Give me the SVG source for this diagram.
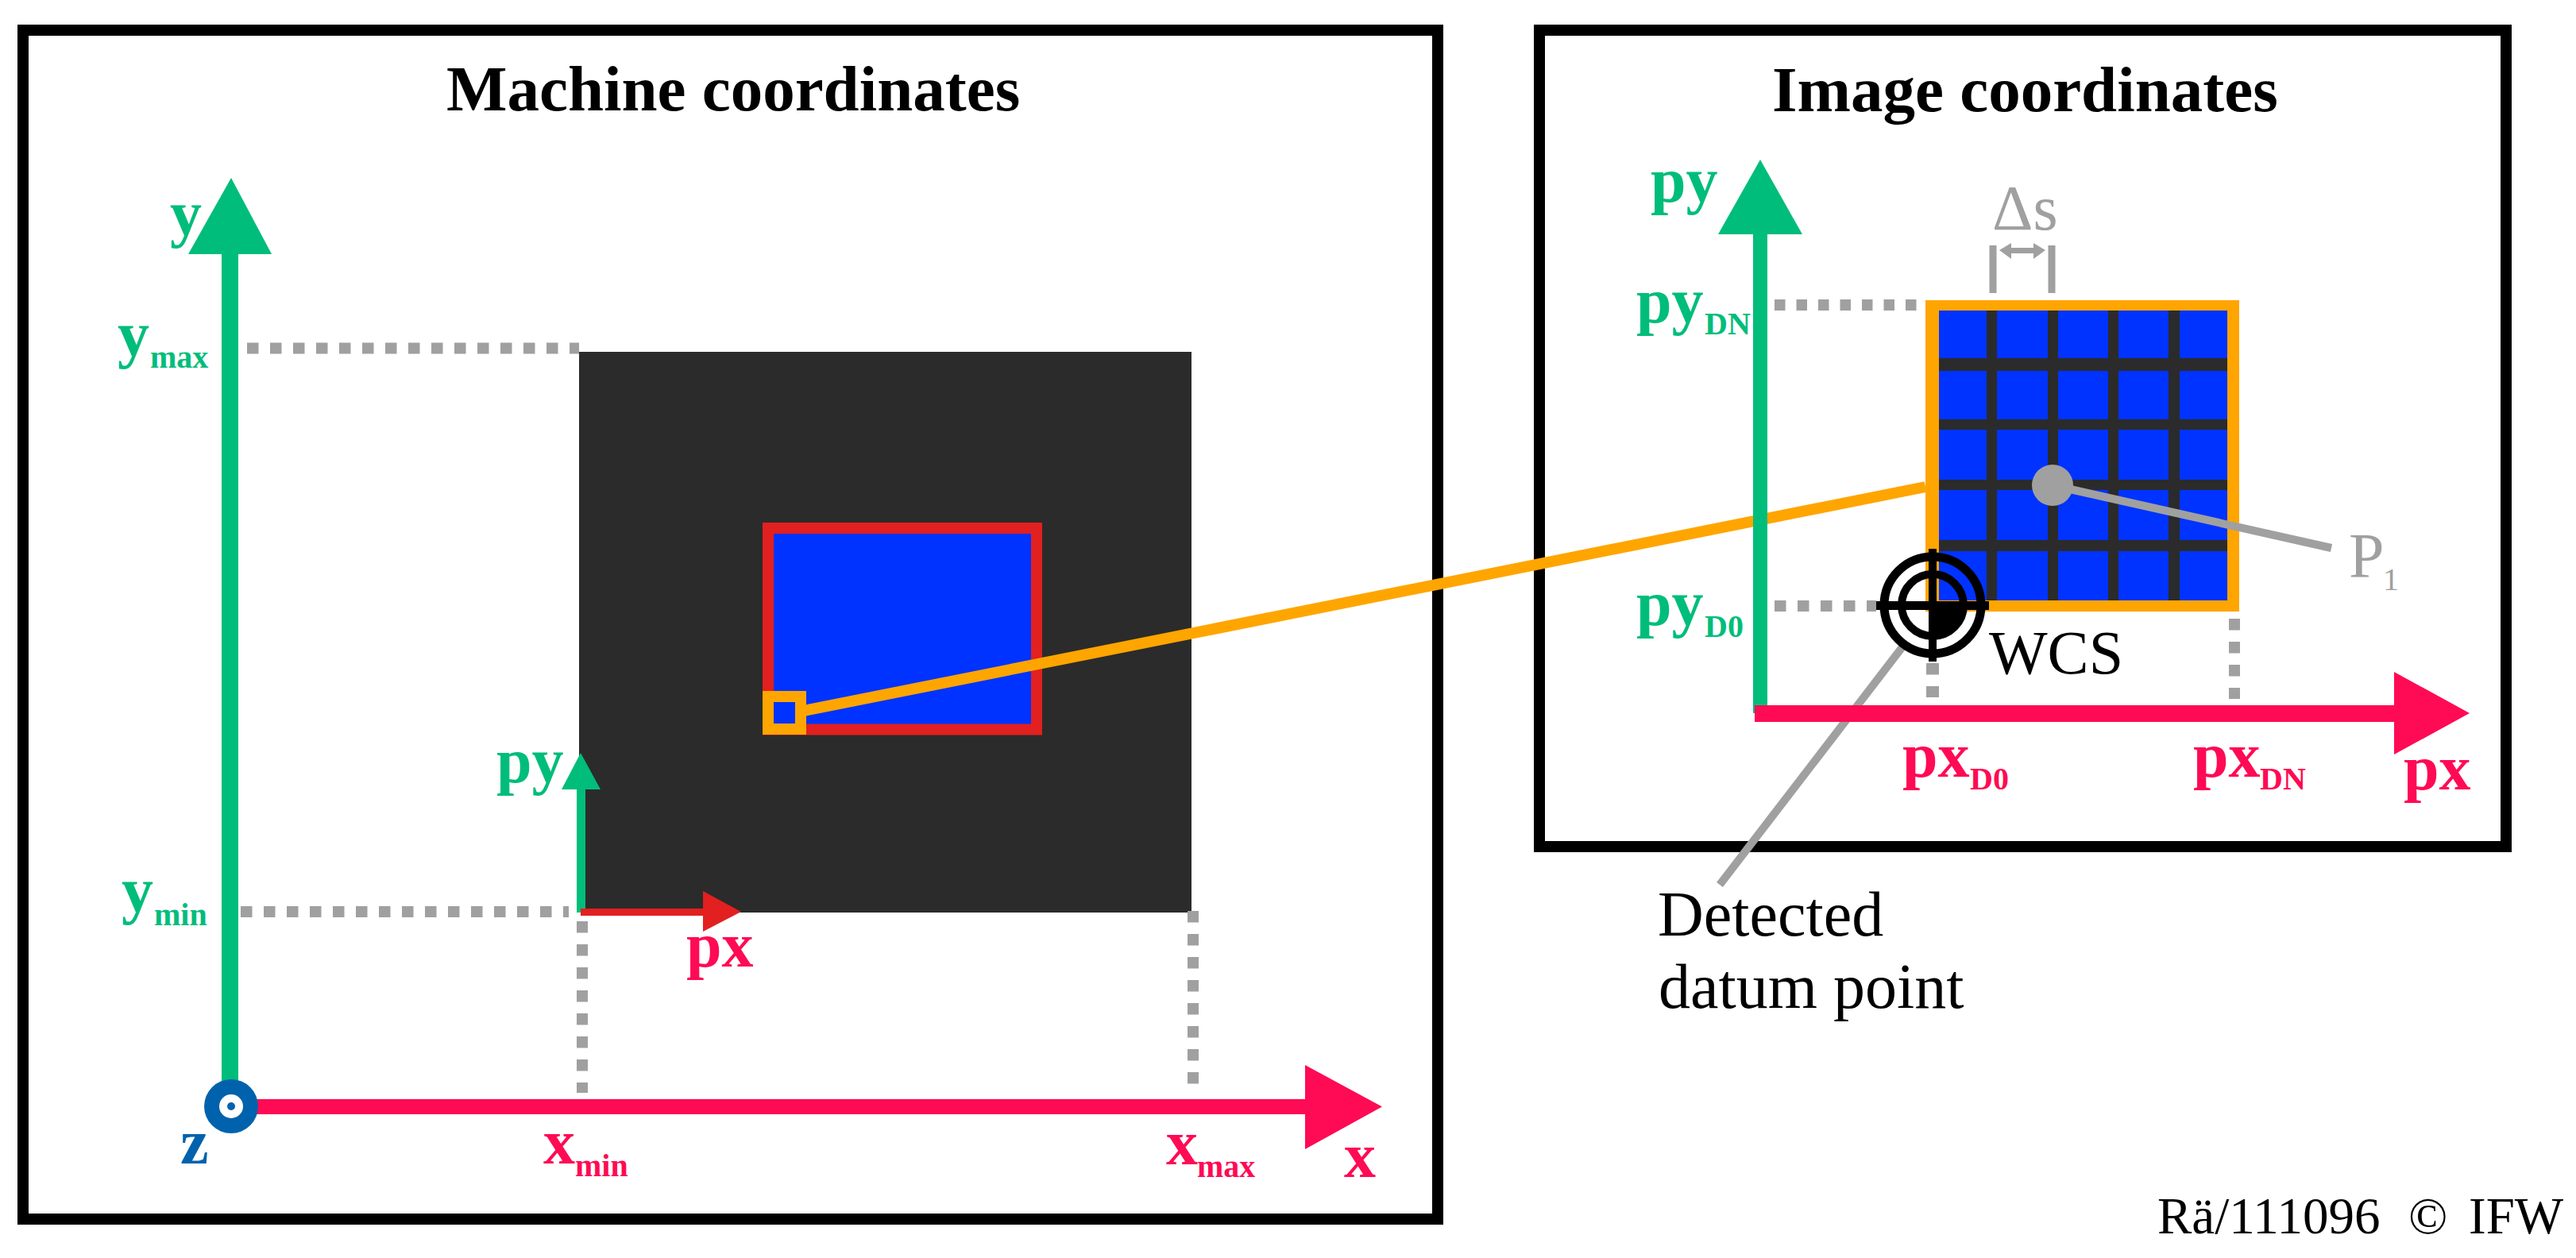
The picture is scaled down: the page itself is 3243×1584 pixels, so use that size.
<svg xmlns="http://www.w3.org/2000/svg" width="3243" height="1584" viewBox="0 0 3243 1584">
<style>
text{font-family:"Liberation Serif","Times New Roman",serif}
.t{font-size:81px;font-weight:700;fill:#000}
.n{font-size:80px;fill:#000}
.g{font-size:80px;font-weight:700;fill:#00bd7b}
.r{font-size:80px;font-weight:700;fill:#ff0a54}
.sub{font-size:40px}
.frame{fill:#fff;stroke:#000;stroke-width:14}
.dash{fill:none;stroke:#a0a0a0;stroke-width:14;stroke-dasharray:14.5 14.5}
.gl{fill:none;stroke:#a0a0a0;stroke-width:10}
.grid{fill:#2b2b2b}
.gaxis{fill:#00bd7b}
.raxis{fill:#ff0a54}
</style>
<rect width="3243" height="1584" fill="#fff"/>
<g id="machine-frame"><rect class="frame" x="29" y="38" width="1781" height="1497"/></g>
<g id="image-frame"><rect class="frame" x="1938" y="38" width="1217" height="1028"/></g>
<g id="workpiece"><rect x="729" y="443" width="771" height="706" fill="#2b2b2b"/></g>
<g id="scan-area"><rect x="967" y="665" width="338" height="253.500" fill="#0033ff" stroke="#e22020" stroke-width="14"/></g>
<g id="pixel-marker"><rect x="967" y="877" width="41" height="41" fill="#0033ff" stroke="#ffa500" stroke-width="14"/></g>
<g id="image-grid">
<rect x="2424" y="378" width="395" height="392" fill="#ffa500"/>
<rect x="2441" y="391" width="363" height="365" fill="#0033ff"/>
<rect class="grid" x="2501" y="391" width="13" height="365"/>
<rect class="grid" x="2578" y="391" width="13" height="365"/>
<rect class="grid" x="2654" y="391" width="13" height="365"/>
<rect class="grid" x="2730" y="391" width="14" height="365"/>
<rect class="grid" x="2441" y="451" width="363" height="16"/>
<rect class="grid" x="2441" y="528" width="363" height="13"/>
<rect class="grid" x="2441" y="604" width="363" height="13"/>
<rect class="grid" x="2441" y="680" width="363" height="14"/>
</g>
<g id="connectors">
<path class="dash" d="M311 438.500H729"/>
<path class="dash" d="M303 1148H716"/>
<path class="dash" d="M733 1160V1376"/>
<path class="dash" d="M1502 1147V1379"/>
<path class="dash" d="M2234 384H2424" style="stroke-dasharray:13.500 14"/>
<path class="dash" d="M2234 763H2362"/>
<path class="dash" d="M2433 835V878" style="stroke-width:16"/>
<path class="dash" d="M2813 779V880"/>
<path d="M1012 895L2424 613" fill="none" stroke="#ffa500" stroke-width="14"/>
<path class="gl" d="M2584 611L2935 690"/>
<path class="gl" d="M2397 812L2165 1114"/>
<path class="gl" d="M2509 309V369M2583 309V369" style="stroke-width:9"/>
<path d="M2517 315L2532 306V312H2560V306L2575 315L2560 326V319H2532V326Z" fill="#a0a0a0"/>
</g>
<g id="machine-axes">
<rect class="gaxis" x="279" y="315" width="21" height="1060"/>
<path class="gaxis" d="M291 224L342 320H237Z"/>
<rect class="raxis" x="317" y="1384" width="1330" height="19"/>
<path class="raxis" d="M1643 1341L1740 1393.500L1643 1447Z"/>
<rect class="gaxis" x="726" y="990" width="11" height="159"/>
<path class="gaxis" d="M731 948L756 994H707Z"/>
<rect x="731" y="1144" width="156" height="9" fill="#e22020"/>
<path d="M885 1122L933 1148L885 1173Z" fill="#e22020"/>
</g>
<g id="z-origin"><circle cx="291" cy="1393" r="34" fill="#0062ad"/><circle cx="291" cy="1393" r="15" fill="#fff"/><circle cx="291" cy="1393" r="5" fill="#0062ad"/></g>
<g id="image-axes">
<rect class="gaxis" x="2207" y="290" width="18" height="608"/>
<path class="gaxis" d="M2216 201L2269 295H2163Z"/>
<rect class="raxis" x="2209" y="888" width="807" height="21"/>
<path class="raxis" d="M3014 846L3109 898L3014 950Z"/>
</g>
<g id="p1-point"><circle cx="2584" cy="611" r="26" fill="#a0a0a0"/></g>
<g id="wcs-target">
<path d="M2433 762H2472A39 39 0 0 1 2433 801Z" fill="#000"/>
<circle cx="2433" cy="762" r="61" fill="none" stroke="#000" stroke-width="11"/>
<circle cx="2433" cy="762" r="39" fill="none" stroke="#000" stroke-width="10"/>
<rect x="2428" y="691" width="10" height="142" fill="#000"/>
<rect x="2362" y="757" width="142" height="11" fill="#000"/>
</g>
<g id="labels">
<text class="t" x="562" y="139">Machine coordinates</text>
<text class="t" x="2231" y="140">Image coordinates</text>
<text class="g" x="214" y="296">y</text>
<text class="g" x="148" y="448">y<tspan class="sub" x="189" y="463">max</tspan></text>
<text class="g" x="153" y="1148">y<tspan class="sub" x="194" y="1165">min</tspan></text>
<text class="g" x="625" y="985">py</text>
<text class="r" x="864" y="1217">px</text>
<text x="227" y="1465" class="t" style="fill:#0062ad;font-size:80px">z</text>
<text class="r" x="684" y="1465">x<tspan class="sub" x="724" y="1481">min</tspan></text>
<text class="r" x="1468" y="1466">x<tspan class="sub" x="1507" y="1482">max</tspan></text>
<text class="r" x="1692" y="1482">x</text>
<text class="g" x="2078" y="254">py</text>
<text class="g" x="2060" y="406">py<tspan class="sub" x="2146" y="421">DN</tspan></text>
<text class="g" x="2060" y="787">py<tspan class="sub" x="2146" y="802">D0</tspan></text>
<text class="r" x="2395" y="978">px<tspan class="sub" x="2480" y="994">D0</tspan></text>
<text class="r" x="2761" y="978">px<tspan class="sub" x="2845" y="994">DN</tspan></text>
<text class="r" x="3026" y="994">px</text>
<text class="n" x="2508" y="289" style="fill:#a0a0a0">Δs</text>
<text class="n" x="2957" y="727" style="fill:#a0a0a0">P<tspan class="sub" x="3000" y="743">1</tspan></text>
<text class="n" x="2504" y="848" style="font-size:78px">WCS</text>
<text class="n" x="2087" y="1178">Detected</text>
<text class="n" x="2088" y="1269">datum point</text>
<text class="n" x="2716" y="1553" style="font-size:65px">Rä/111096 <tspan x="3032">©</tspan> <tspan x="3108">IFW</tspan></text>
</g>
</svg>
